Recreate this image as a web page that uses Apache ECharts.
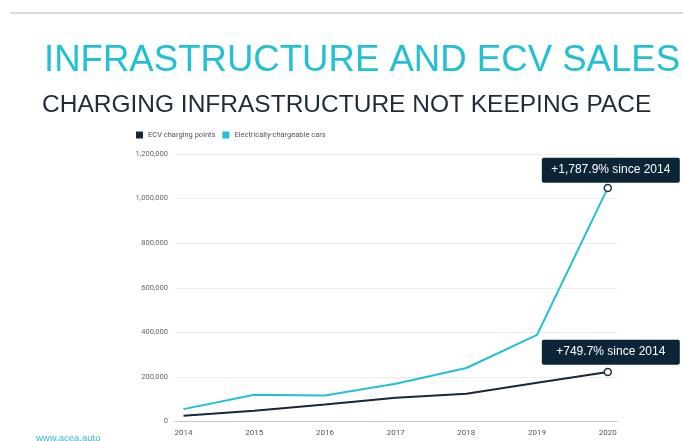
<!DOCTYPE html>
<html>
<head>
<meta charset="utf-8">
<script src="https://cdn.jsdelivr.net/npm/echarts@6/dist/echarts.min.js"></script>
<style>
  html, body { margin: 0; padding: 0; background: #ffffff; }
  #chart { width: 683px; height: 441px; }
</style>
</head>
<body>
<div id="chart"></div>
<script>
// Yearly figures
const years = [2014, 2015, 2016, 2017, 2018, 2019, 2020];
const chargingPoints = [26200, 48000, 76000, 107000, 124500, 174000, 222500];
const ecvCars = [55500, 120000, 117000, 169000, 240000, 389000, 1048000];
const yTicks = [0, 200000, 400000, 600000, 800000, 1000000, 1200000];
const seriesNames = ['ECV charging points', 'Electrically-chargeable cars'];
const growthLabels = ['+749.7% since 2014', '+1,787.9% since 2014'];

const teal = '#22c0d5';
const navy = '#14293a';

const fmt = v => v.toLocaleString('en-US');

// Only the latest year gets a hollow marker and a growth callout
function buildData(values, label, labelOffset) {
  return values.map((v, i) => {
    const item = { value: [years[i], v] };
    if (i === values.length - 1) {
      item.symbol = 'circle';
      item.symbolSize = 7;
      item.itemStyle = { color: '#ffffff', borderColor: '#1f2f3c', borderWidth: 1.5 };
      item.label = {
        show: true,
        position: 'top',
        distance: 2,
        offset: labelOffset,
        formatter: label,
        color: '#ffffff',
        fontFamily: 'Liberation Sans, Arial, sans-serif',
        fontSize: 12,
        lineHeight: 13,
        width: 120,
        align: 'center',
        backgroundColor: '#0b2537',
        borderRadius: 2,
        padding: [6, 9]
      };
    } else {
      item.symbol = 'none';
      item.symbolSize = 0;
    }
    return item;
  });
}

const chart = echarts.init(document.getElementById('chart'), null, { renderer: 'canvas' });

chart.setOption({
  animation: false,
  backgroundColor: '#ffffff',
  graphic: [
    { type: 'rect', shape: { x: 10, y: 12, width: 673, height: 2 }, style: { fill: '#dcdcdc' } },
    { type: 'text', left: 44, top: 42,
      style: { text: 'INFRASTRUCTURE AND ECV SALES', fill: teal,
               font: '36.6px "Liberation Sans", Arial, sans-serif' } },
    { type: 'text', left: 42, top: 93,
      style: { text: 'CHARGING INFRASTRUCTURE NOT KEEPING PACE', fill: '#1c2c3a',
               font: '24.5px "Liberation Sans", Arial, sans-serif' } },
    { type: 'text', left: 36, top: 433,
      style: { text: 'www.acea.auto', fill: '#35b9d4',
               font: '9.5px "Liberation Sans", Arial, sans-serif' } }
  ],
  legend: {
    left: 136,
    top: 131,
    padding: 0,
    itemWidth: 7,
    itemHeight: 7,
    itemGap: 7,
    icon: 'rect',
    textStyle: { color: '#555', fontSize: 7.5, fontFamily: 'Roboto, sans-serif' },
    data: seriesNames
  },
  grid: { left: 175, right: 66, top: 154, bottom: 19.5, containLabel: false },
  xAxis: {
    type: 'value',
    min: 2013.88,
    max: 2020.13,
    axisLine: { show: true, lineStyle: { color: '#c4c4c4', width: 1 } },
    axisTick: { show: false },
    splitLine: { show: false },
    axisLabel: {
      customValues: years,
      formatter: v => String(v),
      color: '#555',
      fontSize: 8,
      fontFamily: 'Roboto, sans-serif',
      margin: 7
    }
  },
  yAxis: {
    type: 'value',
    min: 0,
    max: 1200000,
    interval: 200000,
    axisLine: { show: false },
    axisTick: { show: false },
    splitLine: { show: true, lineStyle: { color: '#ececec', width: 1 } },
    axisLabel: {
      formatter: v => fmt(v),
      color: '#666',
      fontSize: 7.5,
      fontFamily: 'Roboto, sans-serif',
      margin: 7
    }
  },
  series: [
    {
      name: seriesNames[0],
      type: 'line',
      color: navy,
      lineStyle: { color: navy, width: 2 },
      showSymbol: true,
      symbol: 'circle',
      data: buildData(chargingPoints, growthLabels[0], [3, -1]),
      z: 3
    },
    {
      name: seriesNames[1],
      type: 'line',
      color: teal,
      lineStyle: { color: teal, width: 2 },
      showSymbol: true,
      symbol: 'circle',
      data: buildData(ecvCars, growthLabels[1], [3, 1]),
      z: 2
    }
  ]
});
</script>
</body>
</html>
